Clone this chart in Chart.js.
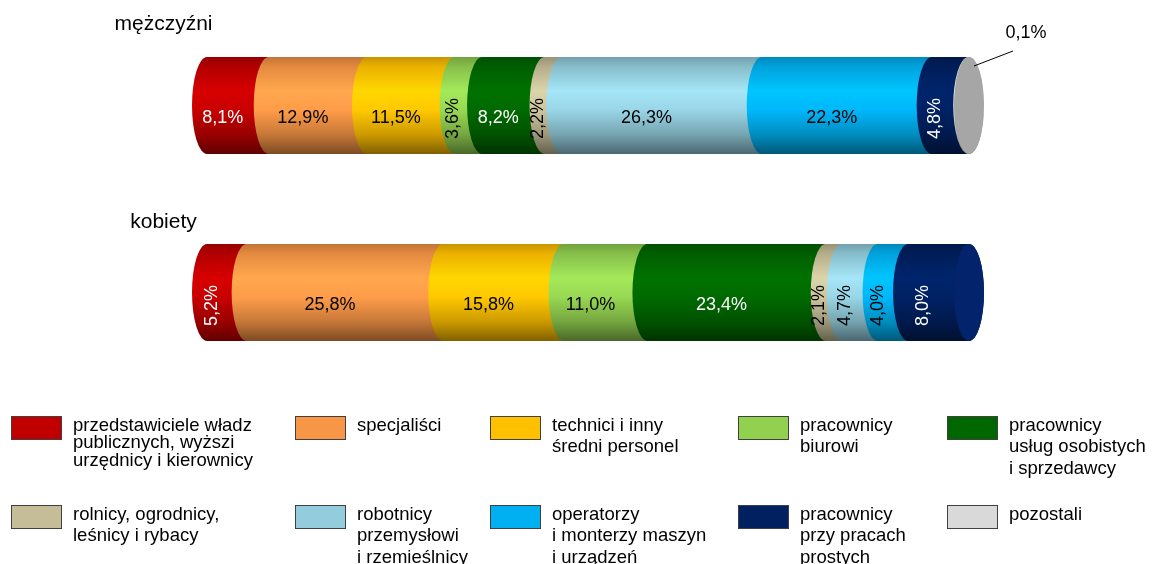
<!DOCTYPE html>
<html>
<head>
<meta charset="utf-8">
<script src="https://cdn.jsdelivr.net/npm/chart.js@4/dist/chart.umd.min.js"></script>
<style>
  body { margin: 0; background: #fff; }
  canvas { display: block; }
</style>
</head>
<body>
<canvas id="zawody" width="1155" height="564"></canvas>
<script>
const categories = ['mężczyźni', 'kobiety'];

const occupations = [
    ['przedstawiciele władz', 'publicznych, wyższi', 'urzędnicy i kierownicy'],
    ['specjaliści'],
    ['technici i inny', 'średni personel'],
    ['pracownicy', 'biurowi'],
    ['pracownicy', 'usług osobistych', 'i sprzedawcy'],
    ['rolnicy, ogrodnicy,', 'leśnicy i rybacy'],
    ['robotnicy', 'przemysłowi', 'i rzemieślnicy'],
    ['operatorzy', 'i monterzy maszyn', 'i urządzeń'],
    ['pracownicy', 'przy pracach', 'prostych'],
    ['pozostali']
];

const men   = [8.1, 12.9, 11.5, 3.6, 8.2, 2.2, 26.3, 22.3, 4.8, 0.1];
const women = [5.2, 25.8, 15.8, 11.0, 23.4, 2.1, 4.7, 4.0, 8.0, 0];

const colors = ['#C00000', '#F79646', '#FFC000', '#92D050', '#006600',
                '#C4BD97', '#93CDDD', '#00B0F0', '#002060', '#D9D9D9'];
const capColors = ['#a00000', '#e08540', '#e6ad00', '#84bb48', '#005a00',
                   '#b0aa88', '#84b8c6', '#009ed8', '#03246c', '#a6a6a6'];
const whiteText = [0, 4, 8];
// which labels are turned on their side, per category
const rotated = [[3, 5, 8], [0, 5, 6, 7, 8]];

const FONT = '"Liberation Sans", Arial, sans-serif';
const RX = 15;

function shade(hex, f) {
    const n = parseInt(hex.slice(1), 16);
    const c = [(n >> 16) & 255, (n >> 8) & 255, n & 255].map(v => Math.min(255, Math.round(v * f)));
    return 'rgb(' + c.join(',') + ')';
}

function fmt(v) {
    return v.toFixed(1).replace('.', ',') + '%';
}

const cylinders = {
    id: 'cylinders',
    beforeDatasetsDraw(chart) {
        const ctx = chart.ctx;
        chart.data.labels.forEach((cat, i) => {
            const segs = [];
            chart.data.datasets.forEach((ds, d) => {
                if (!ds.data[i]) return;
                const p = chart.getDatasetMeta(d).data[i].getProps(['x', 'base', 'y', 'height'], true);
                segs.push({ d: d, v: ds.data[i], x0: Math.min(p.x, p.base), x1: Math.max(p.x, p.base), cy: p.y, h: p.height });
            });
            segs.forEach((s) => {
                const top = s.cy - s.h / 2, bottom = s.cy + s.h / 2, ry = s.h / 2;
                const g = ctx.createLinearGradient(0, top, 0, bottom);
                const c = colors[s.d];
                g.addColorStop(0, shade(c, 0.78));
                g.addColorStop(0.1, shade(c, 0.92));
                g.addColorStop(0.35, shade(c, 1.12));
                g.addColorStop(0.55, shade(c, 1.04));
                g.addColorStop(0.8, shade(c, 0.8));
                g.addColorStop(1, shade(c, 0.5));
                ctx.save();
                ctx.beginPath();
                ctx.moveTo(s.x0, top);
                ctx.lineTo(s.x1, top);
                ctx.ellipse(s.x1, s.cy, RX, ry, 0, -Math.PI / 2, Math.PI / 2, false);
                ctx.lineTo(s.x0, bottom);
                ctx.ellipse(s.x0, s.cy, RX, ry, 0, Math.PI / 2, Math.PI * 1.5, false);
                ctx.closePath();
                ctx.fillStyle = g;
                ctx.fill();
                ctx.restore();
            });
            // end cap
            const last = segs[segs.length - 1];
            ctx.beginPath();
            ctx.ellipse(last.x1, last.cy, RX, last.h / 2, 0, 0, Math.PI * 2);
            ctx.fillStyle = capColors[last.d];
            ctx.fill();

            // value labels
            ctx.font = '18px ' + FONT;
            ctx.textAlign = 'center';
            ctx.textBaseline = 'middle';
            segs.forEach((s) => {
                const top = s.cy - s.h / 2;
                if (s.v < 1) {
                    ctx.strokeStyle = '#000';
                    ctx.lineWidth = 1;
                    ctx.beginPath();
                    ctx.moveTo(s.x1 + 5, top + 9);
                    ctx.lineTo(s.x1 + 44, top - 6);
                    ctx.stroke();
                    ctx.fillStyle = '#000';
                    ctx.fillText(fmt(s.v), s.x1 + 57, top - 24);
                    return;
                }
                const lx = (s.x0 + s.x1) / 2 - RX, ly = s.cy + 13;
                ctx.fillStyle = whiteText.includes(s.d) ? '#fff' : '#000';
                ctx.save();
                ctx.translate(lx, ly);
                if (rotated[i].includes(s.d)) ctx.rotate(-Math.PI / 2);
                ctx.fillText(fmt(s.v), 0, 0);
                ctx.restore();
            });

            // category title
            ctx.fillStyle = '#000';
            ctx.font = '21px ' + FONT;
            ctx.fillText(cat, 163.5, last.cy - last.h / 2 - [33, 22][i]);
        });
        return false;
    },
    afterDraw(chart) {
        const ctx = chart.ctx;
        const cols = [11, 295, 490, 738, 947];
        const rows = [416, 505];
        chart.data.datasets.forEach((ds, d) => {
            const bx = cols[d % 5], by = rows[Math.floor(d / 5)];
            ctx.fillStyle = colors[d];
            ctx.fillRect(bx, by, 50, 23);
            ctx.strokeStyle = '#404040';
            ctx.lineWidth = 1;
            ctx.strokeRect(bx + 0.5, by + 0.5, 50, 23);
            ctx.fillStyle = '#000';
            ctx.font = '18.5px ' + FONT;
            ctx.textAlign = 'left';
            ctx.textBaseline = 'middle';
            const lh = d === 0 ? 17.5 : 21.5;
            ds.label.forEach((line, k) => {
                ctx.fillText(line, bx + 62, by + 9.5 + k * lh);
            });
        });
    }
};

const datasets = occupations.map((name, d) => ({
    label: name,
    data: [men[d], women[d]],
    backgroundColor: colors[d]
}));

const chart = new Chart(
    document.getElementById('zawody'),
    {
        type: 'bar',
        data: {
            labels: categories,
            datasets: datasets
        },
        options: {
            indexAxis: 'y',
            responsive: false,
            animation: false,
            devicePixelRatio: 1,
            barThickness: 97,
            layout: {
                padding: { left: 207, right: 186, top: 12, bottom: 178 }
            },
            plugins: {
                legend: { display: false },
                tooltip: { enabled: false }
            },
            scales: {
                x: { stacked: true, min: 0, max: 100, display: false },
                y: { stacked: true, display: false }
            }
        },
        plugins: [cylinders]
    }
)
</script>
</body>
</html>
